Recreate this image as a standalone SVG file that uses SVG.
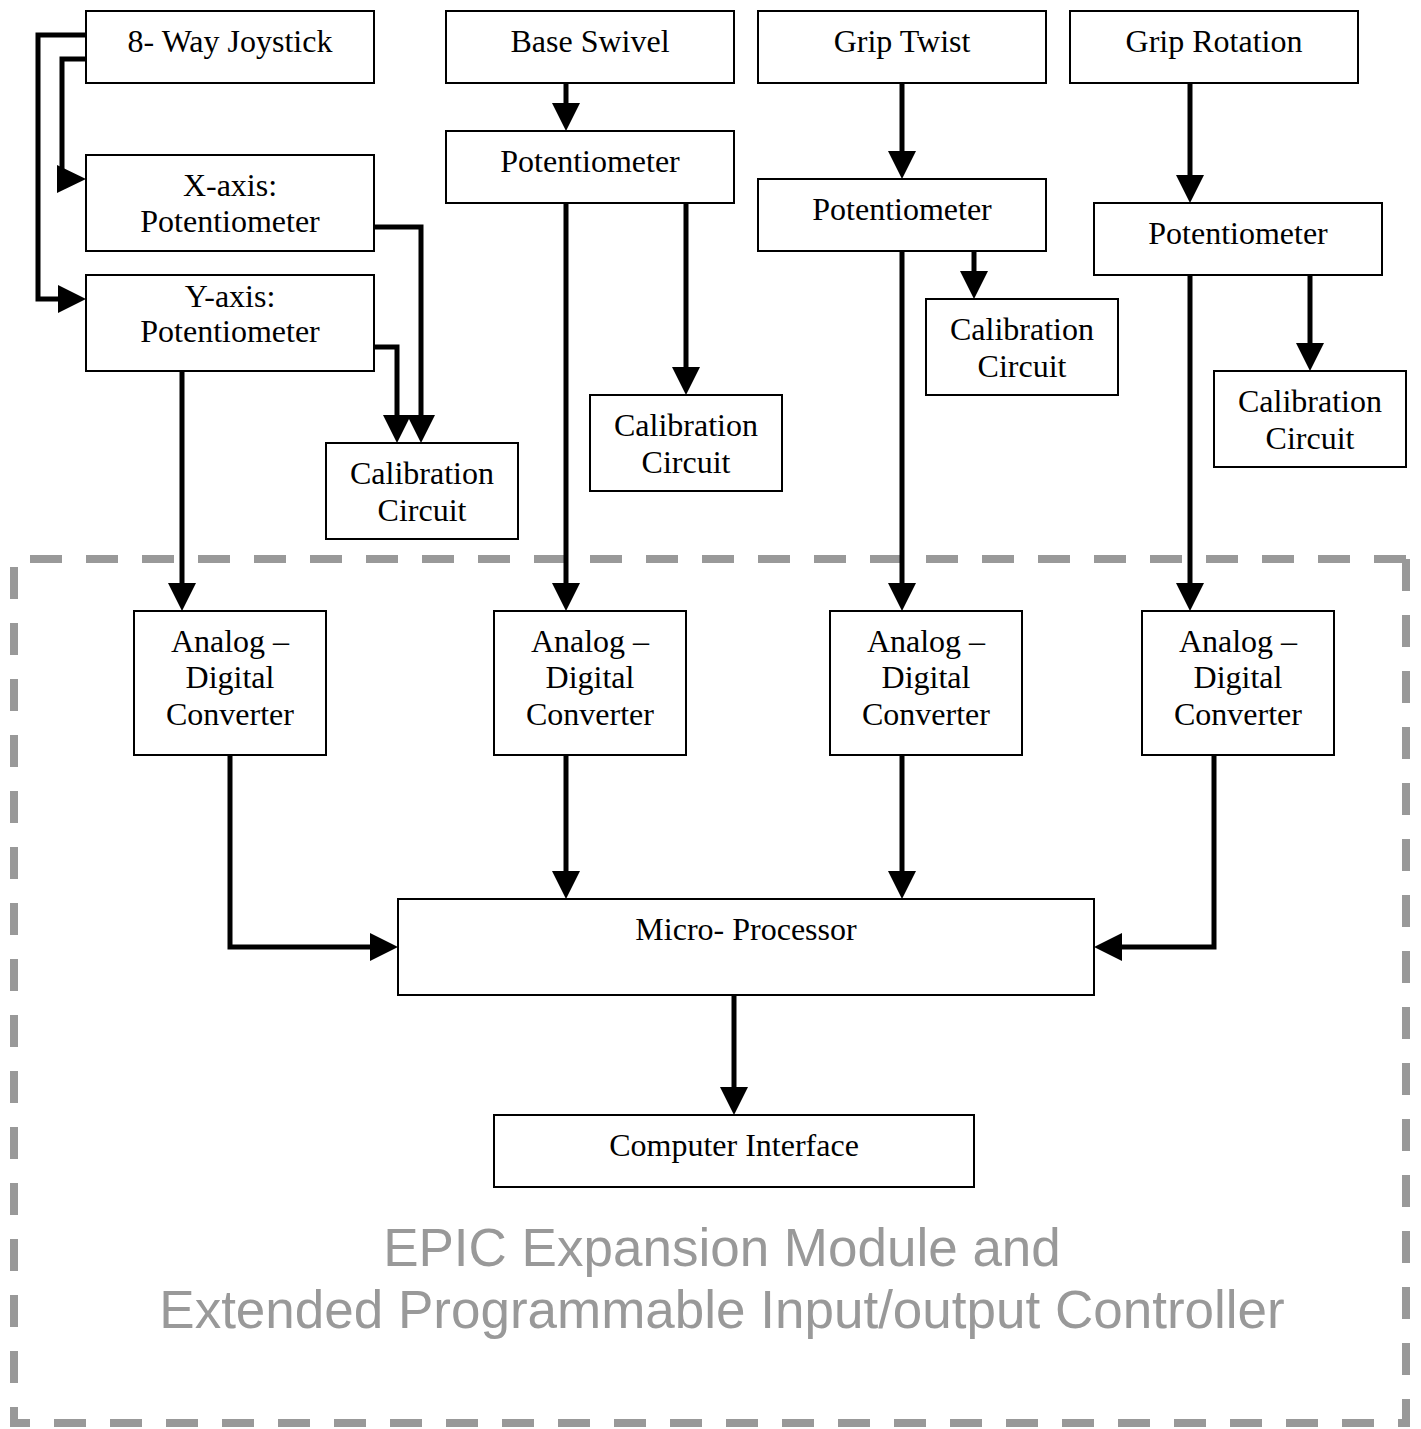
<svg xmlns="http://www.w3.org/2000/svg" width="1421" height="1429" viewBox="0 0 1421 1429">
<defs>
<style>
.box{fill:#fff;stroke:#000;stroke-width:2}
.t{font-family:"Liberation Serif","Times New Roman",serif;font-size:32px;fill:#000;text-anchor:middle}
.c{fill:none;stroke:#000;stroke-width:5;stroke-linejoin:miter}
.b{fill:none;stroke:#999;stroke-width:8;stroke-dasharray:32 24}
.epic{font-family:"Liberation Sans",Arial,sans-serif;font-size:53px;fill:#999;text-anchor:middle}
</style>
<marker id="ah" viewBox="0 0 28 28" markerUnits="userSpaceOnUse" markerWidth="28" markerHeight="28" refX="0" refY="14" orient="auto">
<path d="M0,0 L28,14 L0,28 Z" fill="#000"/>
</marker>
</defs>
<rect width="1421" height="1429" fill="#fff"/>
<g id="border">
<path class="b" d="M30,559 H1410"/>
<path class="b" d="M1406,559 V1427"/>
<path class="b" d="M10,1423 H1410" stroke-dashoffset="12"/>
<path class="b" d="M14,567 V1427"/>
</g>
<g id="epic-label">
<text class="epic" x="722" y="1266">EPIC Expansion Module and</text>
<text class="epic" x="722" y="1328">Extended Programmable Input/output Controller</text>
</g>
<g id="connectors">
<path class="c" d="M86,59 H62 V181.5"/>
<path d="M57,165 L86,179 L57,193 Z" fill="#000"/>
<path class="c" marker-end="url(#ah)" d="M86,35 H38 V299 H58"/>
<path class="c" marker-end="url(#ah)" d="M374,227 H421 V415"/>
<path class="c" marker-end="url(#ah)" d="M374,347 H397 V415"/>
<path class="c" marker-end="url(#ah)" d="M182,371 V583"/>
<path class="c" marker-end="url(#ah)" d="M566,83 V103"/>
<path class="c" marker-end="url(#ah)" d="M566,203 V583"/>
<path class="c" marker-end="url(#ah)" d="M686,203 V367"/>
<path class="c" marker-end="url(#ah)" d="M902,83 V151"/>
<path class="c" marker-end="url(#ah)" d="M902,251 V583"/>
<path class="c" marker-end="url(#ah)" d="M974,251 V271"/>
<path class="c" marker-end="url(#ah)" d="M1190,83 V175"/>
<path class="c" marker-end="url(#ah)" d="M1190,275 V583"/>
<path class="c" marker-end="url(#ah)" d="M1310,275 V343"/>
<path class="c" marker-end="url(#ah)" d="M230,755 V947 H370"/>
<path class="c" marker-end="url(#ah)" d="M566,755 V871"/>
<path class="c" marker-end="url(#ah)" d="M902,755 V871"/>
<path class="c" marker-end="url(#ah)" d="M1214,755 V947 H1122"/>
<path class="c" marker-end="url(#ah)" d="M734,995 V1087"/>
</g>
<g id="joystick"><rect class="box" x="86" y="11" width="288" height="72"/><text class="t" x="230" y="52">8- Way Joystick</text></g>
<g id="xpot"><rect class="box" x="86" y="155" width="288" height="96"/><text class="t" x="230" y="196">X-axis:</text><text class="t" x="230" y="232">Potentiometer</text></g>
<g id="ypot"><rect class="box" x="86" y="275" width="288" height="96"/><text class="t" x="230" y="307">Y-axis:</text><text class="t" x="230" y="342">Potentiometer</text></g>
<g id="baseswivel"><rect class="box" x="446" y="11" width="288" height="72"/><text class="t" x="590" y="52">Base Swivel</text></g>
<g id="griptwist"><rect class="box" x="758" y="11" width="288" height="72"/><text class="t" x="902" y="52">Grip Twist</text></g>
<g id="griprotation"><rect class="box" x="1070" y="11" width="288" height="72"/><text class="t" x="1214" y="52">Grip Rotation</text></g>
<g id="pot-base"><rect class="box" x="446" y="131" width="288" height="72"/><text class="t" x="590" y="172">Potentiometer</text></g>
<g id="pot-twist"><rect class="box" x="758" y="179" width="288" height="72"/><text class="t" x="902" y="220">Potentiometer</text></g>
<g id="pot-rot"><rect class="box" x="1094" y="203" width="288" height="72"/><text class="t" x="1238" y="244">Potentiometer</text></g>
<g id="cal1"><rect class="box" x="326" y="443" width="192" height="96"/><text class="t" x="422" y="484">Calibration</text><text class="t" x="422" y="521">Circuit</text></g>
<g id="cal2"><rect class="box" x="590" y="395" width="192" height="96"/><text class="t" x="686" y="436">Calibration</text><text class="t" x="686" y="473">Circuit</text></g>
<g id="cal3"><rect class="box" x="926" y="299" width="192" height="96"/><text class="t" x="1022" y="340">Calibration</text><text class="t" x="1022" y="377">Circuit</text></g>
<g id="cal4"><rect class="box" x="1214" y="371" width="192" height="96"/><text class="t" x="1310" y="412">Calibration</text><text class="t" x="1310" y="449">Circuit</text></g>
<g id="adc1"><rect class="box" x="134" y="611" width="192" height="144"/><text class="t" x="230" y="652">Analog –</text><text class="t" x="230" y="688">Digital</text><text class="t" x="230" y="725">Converter</text></g>
<g id="adc2"><rect class="box" x="494" y="611" width="192" height="144"/><text class="t" x="590" y="652">Analog –</text><text class="t" x="590" y="688">Digital</text><text class="t" x="590" y="725">Converter</text></g>
<g id="adc3"><rect class="box" x="830" y="611" width="192" height="144"/><text class="t" x="926" y="652">Analog –</text><text class="t" x="926" y="688">Digital</text><text class="t" x="926" y="725">Converter</text></g>
<g id="adc4"><rect class="box" x="1142" y="611" width="192" height="144"/><text class="t" x="1238" y="652">Analog –</text><text class="t" x="1238" y="688">Digital</text><text class="t" x="1238" y="725">Converter</text></g>
<g id="microprocessor"><rect class="box" x="398" y="899" width="696" height="96"/><text class="t" x="746" y="940">Micro- Processor</text></g>
<g id="computer-interface"><rect class="box" x="494" y="1115" width="480" height="72"/><text class="t" x="734" y="1156">Computer Interface</text></g>
</svg>
